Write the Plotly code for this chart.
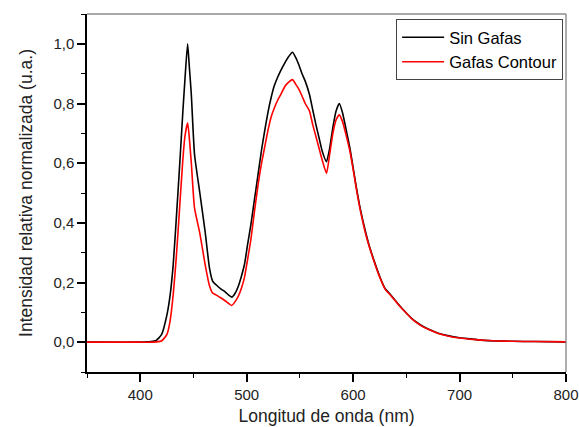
import plotly.graph_objects as go

# Emission spectra (normalized relative intensity vs wavelength)
wavelength = [350, 400, 410, 415, 420, 425, 428, 431, 434, 437, 440, 442, 444.5, 446, 448,
              451, 456, 461, 465, 468, 472, 476, 480, 483, 486, 489, 492, 495, 498, 501,
              504, 507, 511, 514, 517, 520, 523, 526, 529, 532, 536, 539, 543, 546, 549,
              552, 555, 559, 562, 565, 568, 571, 575, 578, 581, 584, 587, 590, 593, 597,
              600, 603, 606, 609, 612, 615, 620, 625, 630, 635, 640, 645, 650, 655, 660,
              665, 670, 680, 690, 700, 710, 720, 735, 750, 770, 800]

sin_gafas = [0.0, 0.0, 0.002, 0.006, 0.025, 0.09, 0.155, 0.26, 0.42, 0.59, 0.77, 0.88, 1.0, 0.93, 0.83,
             0.63, 0.50, 0.37, 0.25, 0.205, 0.19, 0.178, 0.168, 0.158, 0.151, 0.163, 0.186, 0.22, 0.262, 0.33,
             0.395, 0.47, 0.57, 0.645, 0.71, 0.77, 0.82, 0.86, 0.887, 0.91, 0.937, 0.955, 0.972, 0.955, 0.93,
             0.90, 0.875, 0.83, 0.78, 0.73, 0.685, 0.64, 0.605, 0.65, 0.72, 0.775, 0.80, 0.77, 0.72, 0.65,
             0.585, 0.52, 0.46, 0.41, 0.365, 0.325, 0.27, 0.22, 0.18, 0.16, 0.138, 0.117, 0.098, 0.08, 0.066,
             0.054, 0.045, 0.03, 0.021, 0.015, 0.011, 0.007, 0.004, 0.003, 0.002, 0.001]

gafas_contour = [0.0, 0.0, 0.0, 0.001, 0.004, 0.025, 0.07, 0.16, 0.29, 0.45, 0.61, 0.69, 0.735, 0.69, 0.60,
                 0.45, 0.365, 0.26, 0.19, 0.165, 0.157, 0.148, 0.138, 0.13, 0.123, 0.135, 0.153, 0.18, 0.218, 0.28,
                 0.345, 0.43, 0.535, 0.60, 0.655, 0.71, 0.755, 0.785, 0.81, 0.83, 0.858, 0.87, 0.88, 0.865, 0.848,
                 0.825, 0.80, 0.775, 0.73, 0.69, 0.65, 0.61, 0.566, 0.63, 0.70, 0.745, 0.762, 0.74, 0.70, 0.64,
                 0.58, 0.515, 0.455, 0.405, 0.36, 0.322, 0.267, 0.218, 0.178, 0.158, 0.137, 0.116, 0.097, 0.079, 0.065,
                 0.053, 0.044, 0.029, 0.02, 0.014, 0.01, 0.007, 0.004, 0.003, 0.002, 0.001]

FONT = "Liberation Sans, Arial, sans-serif"

fig = go.Figure()
fig.add_trace(go.Scatter(x=wavelength, y=sin_gafas, mode="lines", name="Sin Gafas",
                         line=dict(color="#000000", width=1.6, shape="spline", smoothing=0.5)))
fig.add_trace(go.Scatter(x=wavelength, y=gafas_contour, mode="lines", name="Gafas Contour",
                         line=dict(color="#ff0000", width=1.6, shape="spline", smoothing=0.5)))

axis_common = dict(showline=True, linecolor="#000000", linewidth=1.5, mirror=False,
                   showgrid=False, zeroline=False, ticks="outside", ticklen=8, tickwidth=1.5,
                   tickcolor="#000000", automargin=False,
                   tickfont=dict(family=FONT, size=15, color="#222222"))

fig.update_xaxes(range=[350, 800], tick0=400, dtick=100,
                 minor=dict(ticks="outside", ticklen=4, tickwidth=1.2, tickcolor="#000000", dtick=50, tick0=350),
                 title=dict(text="Longitud de onda (nm)", font=dict(family=FONT, size=17.5, color="#222222"),
                            standoff=8),
                 **axis_common)
fig.update_yaxes(range=[-0.1, 1.1], tick0=0, dtick=0.2, tickformat=".1f",
                 minor=dict(ticks="outside", ticklen=4, tickwidth=1.2, tickcolor="#000000", dtick=0.1, tick0=0.1),
                 title=dict(text="Intensidad relativa normalizada (u.a.)",
                            font=dict(family=FONT, size=17.5, color="#222222"), standoff=16),
                 **axis_common)

# Top and right frame lines
fig.add_shape(type="line", xref="paper", yref="paper", x0=0, x1=1, y0=1, y1=1,
              line=dict(color="#555555", width=1.2))
fig.add_shape(type="line", xref="paper", yref="paper", x0=1, x1=1, y0=0, y1=1,
              line=dict(color="#777777", width=1.2))

fig.update_layout(
    width=579, height=427,
    margin=dict(l=87, r=13, t=14, b=55, autoexpand=False),
    paper_bgcolor="white", plot_bgcolor="white",
    separators=",.",
    showlegend=True,
    legend=dict(x=0.994, y=0.986, xanchor="right", yanchor="top",
                bgcolor="white", bordercolor="#444444", borderwidth=1,
                font=dict(family=FONT, size=16.5, color="#000000"),
                itemwidth=42, tracegroupgap=0),
)

fig.write_html("out.html")
